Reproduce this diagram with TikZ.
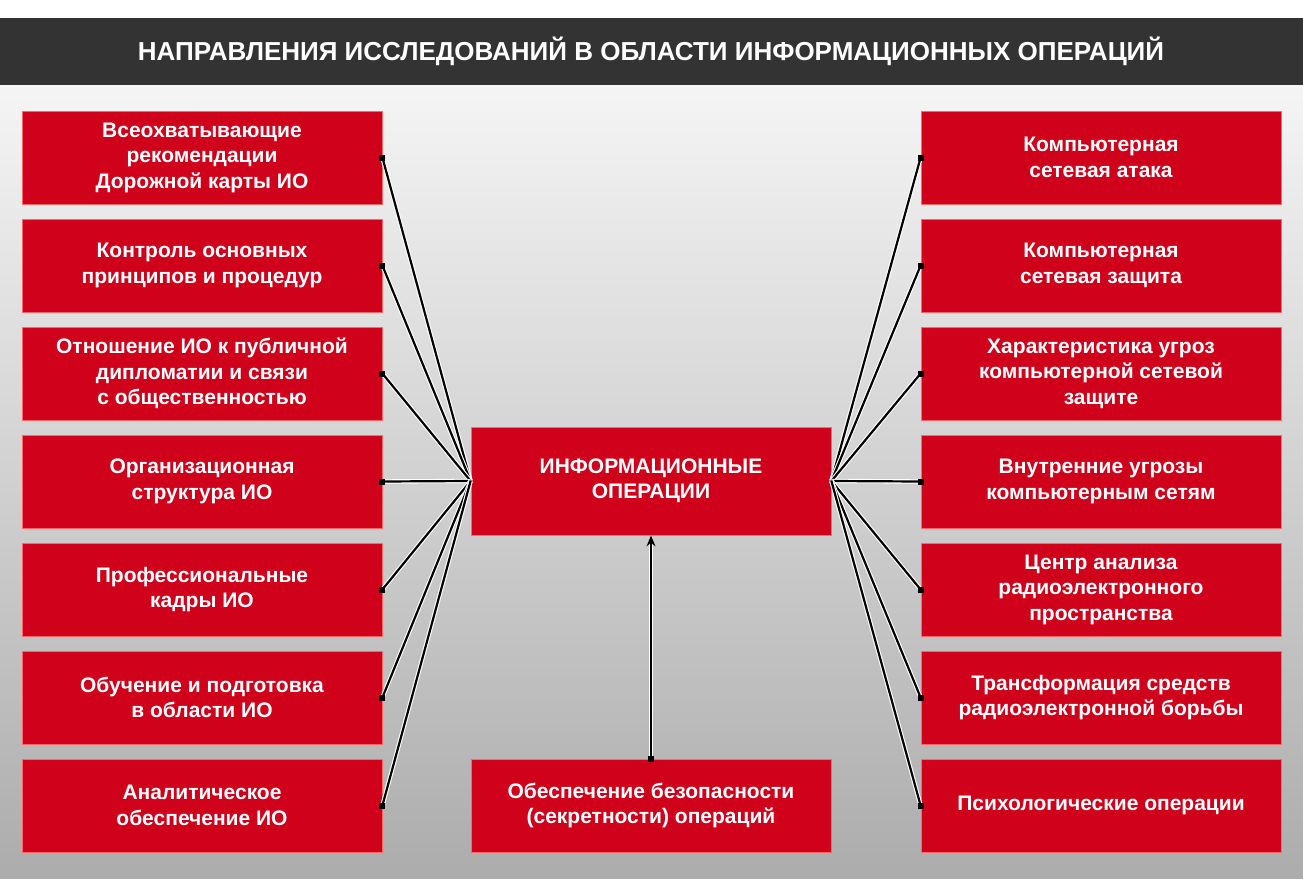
\documentclass[tikz,border=0pt]{standalone}
\usetikzlibrary{arrows.meta}
\usepackage{fontspec}
\setmainfont{Liberation Sans}
\definecolor{boxred}{HTML}{D0021B}
\definecolor{titlebg}{HTML}{333333}
\begin{document}
\begin{tikzpicture}[x=1pt,y=-1pt,
  rbox/.style={fill=boxred,draw=red!60!white,line width=0.8pt,minimum width=360pt,minimum height=93pt,inner sep=0pt,align=center,text=white,font=\bfseries\fontsize{21}{25.5}\selectfont},
  conn/.style={line width=2.2pt,black,preaction={draw=white,line width=4.4pt}},
  sq/.style={fill=black,minimum size=6pt,inner sep=0pt}]
\useasboundingbox (0,0) rectangle (1303,878);
\shade[top color=gray!8,bottom color=gray!65] (0,85) rectangle (1303,878);
\fill[titlebg] (0,18) rectangle (1303,85);
\node[text=white,font=\bfseries\fontsize{26}{30}\selectfont] (title) at (651,51) {НАПРАВЛЕНИЯ ИССЛЕДОВАНИЙ В ОБЛАСТИ ИНФОРМАЦИОННЫХ ОПЕРАЦИЙ};
\node[rbox,minimum height=108pt] (c) at (651,481) {ИНФОРМАЦИОННЫЕ\\ОПЕРАЦИИ};
\node[rbox] (b) at (651,805.5) {Обеспечение безопасности\\(секретности) операций};
\foreach \i/\t in {1/{Всеохватывающие\\рекомендации\\Дорожной карты ИО},
  2/{Контроль основных\\принципов и процедур},
  3/{Отношение ИО к публичной\\дипломатии и связи\\с общественностью},
  4/{Организационная\\структура ИО},
  5/{Профессиональные\\кадры ИО},
  6/{Обучение и подготовка\\в области ИО},
  7/{Аналитическое\\обеспечение ИО}}{
  \node[rbox] (l\i) at (202,{157.5+108*(\i-1)}) {\t};
}
\foreach \i/\t in {1/{Компьютерная\\сетевая атака},
  2/{Компьютерная\\сетевая защита},
  3/{Характеристика угроз\\компьютерной сетевой\\защите},
  4/{Внутренние угрозы\\компьютерным сетям},
  5/{Центр анализа\\радиоэлектронного\\пространства},
  6/{Трансформация средств\\радиоэлектронной борьбы},
  7/{Психологические операции}}{
  \node[rbox] (r\i) at (1101,{157.5+108*(\i-1)}) {\t};
}
\foreach \i in {1,...,7}{
  \draw[conn] (c.west) -- (l\i.east);
  \draw[conn] (c.east) -- (r\i.west);
}
\foreach \i in {1,...,7}{
  \node[sq] at (l\i.east) {};
  \node[sq] at (r\i.west) {};
}
\draw[conn,-{Stealth[length=11pt,width=9pt]}] (b.north) -- (c.south);
\node[sq] at (b.north) {};
\end{tikzpicture}
\end{document}
